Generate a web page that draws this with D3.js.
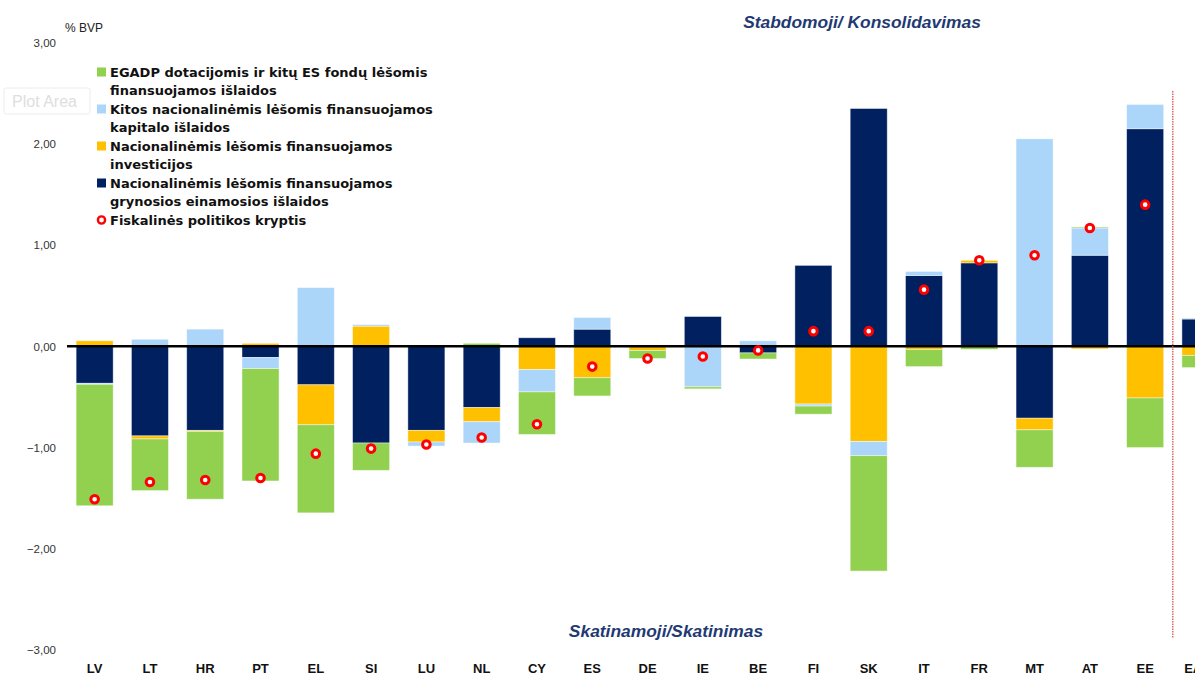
<!DOCTYPE html>
<html>
<head>
<meta charset="utf-8">
<script src="https://cdn.jsdelivr.net/npm/d3@7"></script>
<style>
  body { margin: 0; background: #fff; overflow: hidden; }
  svg { display: block; }
</style>
</head>
<body>
<div id="container"></div>
<script>
const categories = ["LV", "LT", "HR", "PT", "EL", "SI", "LU", "NL", "CY", "ES", "DE", "IE", "BE", "FI", "SK", "IT", "FR", "MT", "AT", "EE", "EA19"]

// series values, % of GDP
const egadp       = [-1.20, -0.51, -0.67, -1.11, -0.87, -0.27, 0.00, 0.03, -0.42, -0.18, -0.08, -0.02, -0.06, -0.08, -1.14, -0.17, -0.03, -0.37, 0.01, -0.49, -0.12]
const kapitalo    = [-0.01, 0.07, 0.17, -0.11, 0.58, 0.015, -0.04, -0.21, -0.22, 0.115, 0.00, -0.40, 0.055, -0.02, -0.14, 0.04, 0.00, 2.05, 0.27, 0.24, 0.01]
const investicijos = [0.055, -0.03, -0.01, 0.03, -0.395, 0.20, -0.115, -0.14, -0.23, -0.31, -0.04, 0.00, 0.00, -0.57, -0.94, -0.03, 0.025, -0.115, -0.025, -0.51, -0.09]
const einamosios  = [-0.365, -0.885, -0.83, -0.11, -0.38, -0.955, -0.83, -0.605, 0.085, 0.17, 0.00, 0.295, -0.065, 0.80, 2.35, 0.70, 0.825, -0.71, 0.90, 2.15, 0.27]
const kryptis     = [-1.51, -1.34, -1.32, -1.30, -1.06, -1.01, -0.97, -0.90, -0.77, -0.20, -0.12, -0.10, -0.04, 0.15, 0.15, 0.56, 0.85, 0.90, 1.17, 1.40, null]

const yTicks = [3, 2, 1, 0, -1, -2, -3]

const legendItems = [
  {key: "egadp", color: "#92D050", lines: ["EGADP dotacijomis ir kitų ES fondų lėšomis", "finansuojamos išlaidos"]},
  {key: "kapitalo", color: "#ABD6FA", lines: ["Kitos nacionalinėmis lėšomis finansuojamos", "kapitalo išlaidos"]},
  {key: "investicijos", color: "#FFC000", lines: ["Nacionalinėmis lėšomis finansuojamos", "investicijos"]},
  {key: "einamosios", color: "#002060", lines: ["Nacionalinėmis lėšomis finansuojamos", "grynosios einamosios išlaidos"]},
  {key: "kryptis", color: "#FF0000", lines: ["Fiskalinės politikos kryptis"]}
]

const width = 1195
const height = 678

const svg = d3.create("svg")
    .attr("width", width)
    .attr("height", height)
    .style("font-family", "'Liberation Sans', Arial, sans-serif")

const x = d3.scaleBand()
    .domain(categories)
    .range([67, 67 + categories.length * 55.29])
    .paddingInner(0.33)
    .paddingOuter(0.165)

const y = d3.scaleLinear()
    .domain([-3, 3])
    .range([650, 42.7])

// stack order from the axis outwards: current, investment, capital, EU funds
const keys = ["einamosios", "investicijos", "kapitalo", "egadp"]
const colors = {egadp: "#92D050", kapitalo: "#ABD6FA", investicijos: "#FFC000", einamosios: "#002060"}

const table = categories.map((c, i) => ({
    cat: c,
    egadp: egadp[i],
    kapitalo: kapitalo[i],
    investicijos: investicijos[i],
    einamosios: einamosios[i]
}))

const series = d3.stack()
    .keys(keys)
    .offset(d3.stackOffsetDiverging)(table)

// y axis labels
const yAxis = svg.append("g")
    .attr("transform", "translate(56,0)")
    .call(d3.axisLeft(y).tickValues(yTicks).tickSize(0).tickPadding(0)
        .tickFormat(d => d3.format(".2f")(d).replace(".", ",")))
yAxis.select(".domain").remove()
yAxis.selectAll("text")
    .attr("font-size", 11.5)
    .attr("fill", "#333")
    .style("font-family", "'Liberation Sans', Arial, sans-serif")

svg.append("text")
    .attr("x", 65)
    .attr("y", 32)
    .attr("font-size", 12)
    .attr("fill", "#222")
    .text("% BVP")

// bars
svg.append("g")
    .selectAll("g")
    .data(series)
    .join("g")
    .attr("fill", d => colors[d.key])
    .selectAll("rect")
    .data(d => d)
    .join("rect")
    .attr("x", d => x(d.data.cat))
    .attr("y", d => y(Math.max(d[0], d[1])))
    .attr("width", x.bandwidth())
    .attr("height", d => Math.abs(y(d[0]) - y(d[1])))
    .attr("stroke", "#ffffff")
    .attr("stroke-opacity", 0.55)
    .attr("stroke-width", 0.8)

// zero line
svg.append("line")
    .attr("x1", 67)
    .attr("x2", width)
    .attr("y1", y(0))
    .attr("y2", y(0))
    .attr("stroke", "#000")
    .attr("stroke-width", 2.5)

// separator before euro area
const sepX = x("EA19") - x.step() * x.paddingInner() / 2
svg.append("line")
    .attr("x1", sepX)
    .attr("x2", sepX)
    .attr("y1", 91)
    .attr("y2", 638)
    .attr("stroke", "#d9534f")
    .attr("stroke-width", 1.3)
    .attr("stroke-dasharray", "1.5,1")

// fiscal stance markers
svg.append("g")
    .selectAll("circle")
    .data(categories.map((c, i) => ({cat: c, v: kryptis[i]})).filter(d => d.v !== null))
    .join("circle")
    .attr("cx", d => x(d.cat) + x.bandwidth() / 2)
    .attr("cy", d => y(d.v))
    .attr("r", 3.8)
    .attr("fill", "#fff")
    .attr("stroke", "#FF0000")
    .attr("stroke-width", 3)

// x labels
const xAxis = svg.append("g")
    .attr("transform", "translate(0,664)")
    .call(d3.axisBottom(x).tickSize(0).tickPadding(0))
xAxis.select(".domain").remove()
xAxis.selectAll("text")
    .attr("font-size", 13)
    .attr("font-weight", "bold")
    .attr("fill", "#111")
    .style("font-family", "'Liberation Sans', Arial, sans-serif")

// direction annotations
svg.append("text")
    .attr("x", 862)
    .attr("y", 28)
    .attr("text-anchor", "middle")
    .attr("font-size", 17.4)
    .attr("font-weight", "bold")
    .attr("font-style", "italic")
    .attr("fill", "#1F3A73")
    .text("Stabdomoji/ Konsolidavimas")

svg.append("text")
    .attr("x", 666)
    .attr("y", 637)
    .attr("text-anchor", "middle")
    .attr("font-size", 17.4)
    .attr("font-weight", "bold")
    .attr("font-style", "italic")
    .attr("fill", "#1F3A73")
    .text("Skatinamoji/Skatinimas")

// legend
const legend = svg.append("g").attr("id", "legend")
let line = 0
legendItems.forEach(item => {
    const ly = 72 + line * 18.5
    if (item.key === "kryptis") {
        legend.append("circle")
            .attr("cx", 101.5)
            .attr("cy", ly)
            .attr("r", 3.6)
            .attr("fill", "#fff")
            .attr("stroke", item.color)
            .attr("stroke-width", 2.4)
    } else {
        legend.append("rect")
            .attr("x", 97)
            .attr("y", ly - 4.5)
            .attr("width", 9)
            .attr("height", 9)
            .attr("fill", item.color)
    }
    item.lines.forEach(t => {
        legend.append("text")
            .attr("x", 110)
            .attr("y", 72 + line * 18.5 + 4.5)
            .attr("font-size", 13)
            .attr("font-weight", "bold")
            .attr("fill", "#111")
            .style("font-family", "'DejaVu Sans', sans-serif")
            .text(t)
        line++
    })
})

// leftover "Plot Area" tooltip from the spreadsheet
const tip = svg.append("g")
tip.append("rect")
    .attr("x", 4)
    .attr("y", 88)
    .attr("width", 86)
    .attr("height", 26)
    .attr("rx", 2)
    .attr("fill", "#fff")
    .attr("stroke", "#ececec")
tip.append("text")
    .attr("x", 12)
    .attr("y", 107)
    .attr("font-size", 16)
    .attr("fill", "#dedede")
    .text("Plot Area")

document.querySelector("#container").appendChild(svg.node())
</script>
</body>
</html>
